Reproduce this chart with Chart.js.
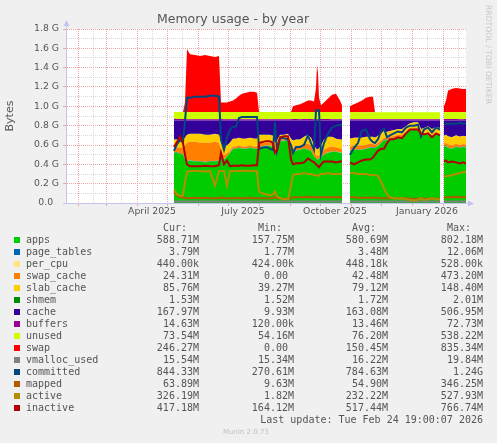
<!DOCTYPE html>
<html>
<head>
<meta charset="utf-8">
<title>Memory usage - by year</title>
<script src="https://cdn.jsdelivr.net/npm/chart.js@4/dist/chart.umd.min.js"></script>
<style>
html, body { margin: 0; padding: 0; background: #f0f0f0; }
#wrap { position: relative; width: 497px; height: 443px; overflow: hidden; }
#chart { position: absolute; left: 0; top: 0; }
.lg { position: absolute; font-family: "DejaVu Sans Mono", monospace; font-size: 10px; line-height: 12px; color: #555; white-space: pre; }
.sw { position: absolute; width: 6px; height: 6px; }
#rrd { position: absolute; left: 484px; top: 5px; writing-mode: vertical-rl; font-family: "DejaVu Sans", sans-serif; font-size: 7.7px; line-height: 8px; color: #c8c8c8; white-space: nowrap; }
#munin { position: absolute; left: 223px; top: 428px; font-family: "DejaVu Sans", sans-serif; font-size: 7px; line-height: 8px; color: #c0c0c0; white-space: nowrap; }
</style>
</head>
<body>
<div id="wrap">
  <canvas id="chart" width="497" height="443"></canvas>
  <div id="rrd">RRDTOOL / TOBI OETIKER</div>
  <div id="munin">Munin 2.0.73</div>
</div>
<script>
// x = days since 20 Jan 2025 (graph covers 400 days), y = gigabytes
const days = [108,111,114,117,119,121,124,129,134,139, 144,149,153,155,158,161,164,167,170,173,
  176,180,184,188,191,193,196,200,204,207, 209,211,214,218,222,225,227,230,234,238,
  242,245,248,250,251,252,253,255,258,262, 266,270,274,276,280,284,288,292,296,300,
  304,307,309,312,315,318,321,324,328,332, 336,340,344,348,352,355,358,362,366,370,
  374,376,378,380,382,386,390,394,397,400];

const apps = [.52,.52,.51,.50,.46,.43,.44,.43,.43,.42, .43,.43,.44,.47,.45,.48,.52,.56,.56,.57,
  .56,.56,.57,.56,.56,.58,.58,.59,.59,.58, .50,.52,.64,.64,.65,.56,.52,.54,.55,.56,
  .55,.54,.48,.46,.45,.45,.46,.47,.50,.52, .53,.53,.52,.52,null,.54,.55,.55,.55,.56,
  .57,.57,.57,.59,.62,.65,.65,.66,.67,.68, .68,.72,.75,.76,.76,.70,.70,.72,.69,.71,
  .70,null,.58,.59,.57,.56,.58,.57,.58,.575];
const pageTables = [.0040,.0038,.0037,.0036,.0036,.0035,.0035,.0034,.0035,.0035, .0034,.0035,.0035,.0036,.0035,.0035,.0034,.0034,.0035,.0034,
  .0034,.0034,.0035,.0034,.0034,.0033,.0033,.0034,.0034,.0033, .0034,.0033,.0032,.0032,.0032,.0034,.0035,.0035,.0034,.0035,
  .0036,.0035,.0034,.0034,.0034,.0034,.0034,.0035,.0035,.0035, .0034,.0034,.0034,.0034,null,.0033,.0034,.0034,.0034,.0034,
  .0035,.0035,.0034,.0034,.0033,.0033,.0032,.0032,.0032,.0032, .0032,.0031,.0031,.0031,.0031,.0032,.0032,.0031,.0032,.0031,
  .0031,null,.0036,.0037,.0037,.0037,.0037,.0037,.0037,.0037];
const perCpu = [.00045,.00045,.00044,.00044,.00044,.00044,.00043,.00043,.00043,.00043, .00043,.00043,.00043,.00043,.00043,.00043,.00043,.00044,.00044,.00044,
  .00044,.00044,.00044,.00044,.00044,.00043,.00043,.00043,.00043,.00043, .00043,.00043,.00043,.00043,.00043,.00044,.00045,.00045,.00045,.00045,
  .00045,.00045,.00045,.00045,.00045,.00045,.00045,.00045,.00045,.00045, .00045,.00045,.00045,.00045,null,.00046,.00046,.00045,.00045,.00045,
  .00045,.00045,.00045,.00044,.00044,.00044,.00044,.00044,.00044,.00044, .00044,.00044,.00044,.00044,.00044,.00044,.00044,.00044,.00044,.00044,
  .00044,null,.00043,.00043,.00043,.00043,.00043,.00043,.00043,.00043];
const swapCache = [.05,.05,.06,.07,.13,.19,.19,.20,.19,.20, .19,.20,.18,.06,.04,.03,.02,.02,.02,.02,
  .02,.02,.02,.02,.02,.04,.04,.03,.03,.03, .04,.04,.01,.01,.01,.03,.04,.04,.04,.05,
  .06,.05,.04,.03,.03,.03,.03,.04,.05,.05, .05,.04,.04,.04,null,.04,.04,.04,.04,.04,
  .04,.04,.03,.03,.02,.02,.02,.02,.02,.02, .02,.01,.01,.01,.01,.01,.01,.01,.01,.01,
  .01,null,.03,.03,.03,.03,.03,.025,.025,.024];
const slabCache = [.08,.08,.08,.08,.08,.08,.08,.08,.09,.08, .08,.08,.08,.08,.09,.08,.08,.08,.08,.08,
  .08,.08,.08,.08,.08,.08,.08,.08,.08,.08, .08,.08,.05,.05,.05,.07,.08,.07,.06,.07,
  .09,.08,.07,.07,.07,.07,.07,.08,.10,.11, .10,.09,.09,.09,null,.08,.08,.08,.08,.08,
  .07,.07,.07,.07,.07,.07,.06,.06,.06,.06, .06,.06,.06,.06,.06,.05,.06,.06,.06,.06,
  .06,null,.08,.08,.085,.085,.085,.085,.085,.084];
const shmem = [.0019,.0018,.0018,.0018,.0017,.0017,.0017,.0017,.0017,.0017, .0017,.0017,.0017,.0017,.0017,.0017,.0017,.0016,.0016,.0016,
  .0016,.0016,.0016,.0016,.0016,.0017,.0017,.0017,.0017,.0017, .0017,.0017,.0016,.0016,.0016,.0017,.0018,.0018,.0018,.0018,
  .0018,.0018,.0018,.0018,.0018,.0018,.0018,.0018,.0018,.0018, .0018,.0018,.0018,.0018,null,.0017,.0017,.0017,.0017,.0017,
  .0017,.0017,.0017,.0017,.0017,.0016,.0016,.0016,.0016,.0016, .0016,.0016,.0016,.0016,.0016,.0016,.0016,.0016,.0016,.0016,
  .0016,null,.0015,.0015,.0015,.0015,.0015,.0015,.0015,.0015];
const cache = [.198,.198,.198,.198,.178,.148,.138,.138,.138,.148, .148,.138,.148,.238,.268,.258,.228,.188,.188,.178,
  .188,.188,.178,.188,.188,.148,.148,.148,.148,.158, .228,.208,.148,.148,.138,.188,.208,.198,.198,.168,
  .148,.178,.258,.288,.298,.298,.288,.258,.198,.168, .168,.188,.198,.198,null,.188,.178,.178,.178,.168,
  .168,.168,.178,.158,.138,.108,.118,.108,.098,.088, .088,.058,.028,.018,.018,.088,.078,.058,.088,.068,
  .078,null,.158,.148,.163,.173,.153,.168,.158,.165];
const buffers = [.016,.015,.015,.015,.014,.014,.014,.014,.014,.014, .014,.014,.014,.014,.014,.014,.014,.014,.014,.014,
  .014,.014,.014,.014,.014,.013,.013,.013,.013,.013, .013,.013,.013,.013,.013,.013,.014,.014,.014,.014,
  .014,.014,.014,.014,.014,.014,.014,.014,.014,.014, .014,.014,.014,.014,null,.013,.013,.013,.013,.013,
  .013,.013,.013,.013,.013,.013,.013,.013,.013,.013, .013,.013,.013,.013,.013,.013,.013,.013,.013,.013,
  .013,null,.015,.015,.015,.015,.015,.014,.014,.0143];
const unused = [.074,.073,.073,.073,.073,.073,.072,.073,.073,.073, .073,.073,.073,.073,.073,.073,.073,.073,.073,.073,
  .073,.073,.073,.073,.073,.074,.074,.074,.074,.074, .074,.074,.074,.074,.074,.074,.073,.073,.073,.073,
  .073,.073,.073,.073,.073,.073,.073,.073,.073,.073, .073,.073,.073,.073,null,.074,.074,.073,.073,.073,
  .073,.073,.073,.073,.073,.073,.073,.073,.073,.073, .073,.073,.073,.073,.073,.073,.073,.073,.073,.073,
  .073,null,.072,.072,.072,.072,.072,.072,.072,.0718];
const swap = [0,0,0,0,.10,.65,.60,.59,.58,.59, .58,.57,.58,.10,.10,.10,.11,.12,.14,.17,
  .19,.20,.21,.21,.20,0,0,0,0,0, 0,0,0,0,0,0,.06,.07,.08,.10,
  .12,.12,.11,.25,.49,.40,.15,.07,.10,.14, .18,.19,.12,.07,null,.06,.08,.10,.12,.15,
  .16,.16,0,0,0,0,0,0,0,0, 0,0,0,0,0,0,0,0,0,0,
  0,null,.06,.12,.22,.24,.25,.245,.24,.24];
const vmallocUsed = [.0162,.0160,.0160,.0159,.0159,.0158,.0158,.0158,.0158,.0158, .0158,.0158,.0158,.0159,.0159,.0159,.0159,.0159,.0159,.0159,
  .0159,.0159,.0159,.0159,.0159,.0157,.0157,.0157,.0157,.0157, .0158,.0157,.0157,.0157,.0157,.0158,.0159,.0159,.0159,.0159,
  .0159,.0159,.0159,.0160,.0160,.0160,.0160,.0159,.0159,.0159, .0159,.0159,.0159,.0159,null,.0157,.0157,.0158,.0158,.0158,
  .0158,.0158,.0158,.0158,.0158,.0158,.0158,.0158,.0158,.0158, .0158,.0158,.0158,.0158,.0158,.0158,.0158,.0158,.0158,.0158,
  .0158,null,.0151,.0151,.0152,.0152,.0152,.0152,.0152,.0152];
const committed = [.54,.61,.65,.63,.85,1.09,1.09,1.10,1.10,1.10, 1.11,1.11,1.10,.66,.55,.68,.76,.79,.79,.88,
  .89,.89,.89,.89,.89,.56,.57,.58,.56,.55, .84,.54,.67,.67,.66,.60,.52,.58,.58,.60,
  .70,.62,.55,.96,.96,.96,.96,.50,.62,.72, .78,.80,.81,.81,null,.50,.57,.62,.75,.76,
  .66,.63,.62,.66,.74,.77,.68,.70,.72,.74, .73,.78,.80,.80,.81,.69,.76,.78,.73,.78,
  .76,null,.81,.82,.82,.82,.82,.83,.82,.824];
const mapped = [.11,.08,.06,.06,.055,.05,.05,.055,.05,.055, .05,.05,.05,.06,.05,.05,.05,.05,.055,.05,
  .05,.05,.055,.05,.05,.05,.05,.05,.05,.05, .06,.05,.05,.045,.045,.05,.06,.06,.06,.06,
  .065,.06,.06,.06,.06,.06,.06,.06,.06,.06, .06,.06,.06,.06,null,.06,.06,.055,.055,.055,
  .055,.055,.055,.055,.05,.05,.05,.05,.05,.05, .05,.05,.045,.045,.045,.05,.045,.045,.05,.045,
  .045,null,.06,.06,.06,.06,.065,.06,.06,.062];
const active = [.135,.09,.075,.075,.22,.32,.33,.33,.33,.325, .33,.18,.33,.33,.33,.18,.33,.33,.33,.33,
  .33,.335,.33,.33,.33,.12,.10,.09,.08,.09, .12,.07,.05,.04,.04,.18,.29,.30,.30,.31,
  .30,.30,.29,.29,.28,.28,.29,.30,.30,.31, .30,.30,.30,.30,null,.31,.31,.30,.30,.30,
  .29,.29,.29,.28,.22,.15,.09,.06,.05,.045, .05,.04,.03,.025,.03,.05,.03,.04,.05,.04,
  .04,null,.27,.28,.28,.29,.30,.31,.32,.319];
const inactive = [.58,.63,.69,.62,.50,.40,.38,.38,.38,.385, .38,.38,.39,.52,.40,.44,.38,.385,.385,.385,
  .39,.385,.385,.39,.39,.62,.63,.64,.64,.62, .52,.55,.68,.69,.69,.45,.40,.41,.41,.42,
  .46,.44,.42,.40,.39,.38,.37,.40,.43,.43, .43,.42,.43,.43,null,.42,.40,.42,.44,.45,
  .45,.47,.50,.54,.56,.56,.62,.66,.66,.68, .67,.72,.76,.76,.76,.72,.71,.72,.68,.72,
  .70,null,.43,.44,.42,.43,.42,.41,.42,.407];

const seriesNames = ['apps','page_tables','per_cpu','swap_cache','slab_cache','shmem','cache','buffers','unused','swap',
  'vmalloc_used','committed','mapped','active','inactive'];
const seriesColors = ['#00cc00','#0066b3','#ffe680','#ff8000','#ffcc00','#008f00','#330099','#990099','#ccff00','#ff0000',
  '#808080','#00487d','#b35a00','#b38f00','#b30000'];
const curValues = ['588.71M','3.79M','440.00k','24.31M','85.76M','1.53M','167.97M','14.63M','73.54M','246.27M','15.54M','844.33M','63.89M','326.19M','417.18M'];
const minValues = ['157.75M','1.77M','424.00k','0.00 ','39.27M','1.52M','9.93M','120.00k','54.16M','0.00 ','15.34M','270.61M','9.63M','1.82M','164.12M'];
const avgValues = ['580.69M','3.48M','448.18k','42.48M','79.12M','1.72M','163.08M','13.46M','76.20M','150.45M','16.22M','784.63M','54.90M','232.22M','517.44M'];
const maxValues = ['802.18M','12.06M','528.00k','473.20M','148.40M','2.01M','506.95M','72.73M','538.22M','835.34M','19.84M','1.24G','346.25M','527.93M','766.74M'];

const xTickDays = [86, 177, 269, 361];
const xTickLabels = ['April 2025', 'July 2025', 'October 2025', 'January 2026'];
const monthStartDays = [12, 40, 71, 101, 132, 162, 193, 224, 254, 285, 315, 346, 377];
const midMonthDays = [27, 55, 86, 116, 147, 177, 208, 239, 269, 300, 330, 361, 392];
const yTickLabels = ['0.0  ', '0.2 G', '0.4 G', '0.6 G', '0.8 G', '1.0 G', '1.2 G', '1.4 G', '1.6 G', '1.8 G'];

const majorGrid = '#eca6a6';
const minorGrid = '#d9d9d9';
const axisColor = '#c4c4ee';
const textColor = '#555555';
const tickFont = { family: 'DejaVu Sans', size: 9.3 };

const stackedSeries = [apps, pageTables, perCpu, swapCache, slabCache, shmem, cache, buffers, unused, swap];
const lineSeries = [vmallocUsed, committed, mapped, active, inactive];
const datasets = [];
stackedSeries.forEach((vals, i) => {
  datasets.push({
    label: seriesNames[i],
    data: days.map((d, j) => ({ x: d, y: vals[j] })),
    backgroundColor: seriesColors[i],
    borderWidth: 0,
    pointRadius: 0,
    fill: i === 0 ? 'origin' : '-1',
    stack: 'mem',
    order: 10
  });
});
lineSeries.forEach((vals, k) => {
  const i = k + stackedSeries.length;
  datasets.push({
    label: seriesNames[i],
    data: days.map((d, j) => ({ x: d, y: vals[j] })),
    borderColor: seriesColors[i],
    borderWidth: 2,
    pointRadius: 0,
    fill: false,
    stack: 'line' + k,
    order: 5 - k
  });
});

const gridDays = monthStartDays.concat(midMonthDays).sort((a, b) => a - b);

const frame = {
  id: 'frame',
  beforeDraw(chart) {
    const { ctx, chartArea: a } = chart;
    ctx.save();
    ctx.fillStyle = '#ffffff';
    ctx.fillRect(a.left, a.top, a.right - a.left, a.bottom - a.top);
    ctx.restore();
  },
  afterDraw(chart) {
    const { ctx, chartArea: a } = chart;
    ctx.save();
    ctx.strokeStyle = axisColor;
    ctx.fillStyle = axisColor;
    ctx.lineWidth = 1;
    ctx.beginPath();
    ctx.moveTo(a.left + 0.5, a.top);
    ctx.lineTo(a.left + 0.5, a.top - 3);
    ctx.moveTo(a.right, a.bottom + 0.5);
    ctx.lineTo(a.right + 3, a.bottom + 0.5);
    ctx.moveTo(a.left - 3, a.bottom + 0.5);
    ctx.lineTo(a.left, a.bottom + 0.5);
    ctx.stroke();
    ctx.beginPath();
    ctx.moveTo(a.left - 2.5, a.top - 3);
    ctx.lineTo(a.left + 3.5, a.top - 3);
    ctx.lineTo(a.left + 0.5, a.top - 9);
    ctx.closePath();
    ctx.fill();
    ctx.beginPath();
    ctx.moveTo(a.right + 2, a.bottom - 2.5);
    ctx.lineTo(a.right + 2, a.bottom + 3.5);
    ctx.lineTo(a.right + 8, a.bottom + 0.5);
    ctx.closePath();
    ctx.fill();
    ctx.restore();
  }
};

new Chart(document.getElementById('chart').getContext('2d'), {
  type: 'line',
  data: { datasets: datasets },
  options: {
    responsive: false,
    animation: false,
    events: [],
    layout: { padding: { left: 0, right: 31, top: 0, bottom: 0 } },
    elements: { line: { tension: 0 }, point: { radius: 0 } },
    plugins: {
      legend: { display: false },
      tooltip: { enabled: false },
      title: {
        display: true,
        text: 'Memory usage - by year',
        color: textColor,
        font: { family: 'DejaVu Sans', size: 12.5, weight: 'normal' },
        padding: { top: 12, bottom: 2 }
      }
    },
    scales: {
      x: {
        type: 'linear',
        min: 0,
        max: 400,
        afterFit: s => { s.height = 240; },
        afterBuildTicks: s => { s.ticks = gridDays.map(v => ({ value: v })); },
        ticks: {
          autoSkip: false,
          maxRotation: 0,
          minRotation: 0,
          padding: 0,
          color: textColor,
          font: tickFont,
          callback: v => {
            const i = xTickDays.indexOf(v);
            return i >= 0 ? xTickLabels[i] : '';
          }
        },
        grid: {
          color: c => monthStartDays.includes(c.tick.value) ? majorGrid : minorGrid,
          tickColor: c => monthStartDays.includes(c.tick.value) ? majorGrid : 'rgba(0,0,0,0)',
          tickLength: 3
        },
        border: { color: axisColor, dash: [1, 1], z: 1 }
      },
      y: {
        stacked: true,
        min: 0,
        max: 1.8,
        afterFit: s => { s.width = 66; },
        afterBuildTicks: s => {
          s.ticks = yTickLabels.flatMap((_, i) => i < yTickLabels.length - 1
            ? [{ value: i * 0.2 }, { value: i * 0.2 + 0.1 }] : [{ value: i * 0.2 }]);
        },
        ticks: {
          autoSkip: false,
          padding: 4,
          color: textColor,
          font: tickFont,
          callback: v => {
            const k = Math.round(v * 10);
            return k % 2 ? '' : yTickLabels[k / 2];
          }
        },
        grid: {
          color: c => Math.round(c.tick.value * 10) % 2 ? minorGrid : majorGrid,
          tickColor: c => Math.round(c.tick.value * 10) % 2 ? 'rgba(0,0,0,0)' : majorGrid,
          tickLength: 3
        },
        border: { color: axisColor, dash: [1, 1], z: 1 },
        title: {
          display: true,
          text: 'Bytes',
          color: textColor,
          font: { family: 'DejaVu Sans', size: 11 },
          padding: { top: 4, bottom: 0 }
        }
      }
    }
  },
  plugins: [frame]
});

// legend table below the graph
const wrap = document.getElementById('wrap');
function addText(txt, style) {
  const d = document.createElement('div');
  d.className = 'lg';
  d.textContent = txt;
  Object.assign(d.style, style);
  wrap.appendChild(d);
}
const colRight = [298, 203, 109, 14];
['Cur:', 'Min:', 'Avg:', 'Max:'].forEach((h, c) => addText(h, { right: (colRight[c] + 12) + 'px', top: '222px' }));
seriesNames.forEach((name, i) => {
  const top = 234 + 12 * i;
  const sw = document.createElement('div');
  sw.className = 'sw';
  sw.style.left = '14px';
  sw.style.top = (top + 3) + 'px';
  sw.style.background = seriesColors[i];
  wrap.appendChild(sw);
  addText(name, { left: '26px', top: top + 'px' });
  [curValues, minValues, avgValues, maxValues].forEach((col, c) => {
    addText(col[i], { right: colRight[c] + 'px', top: top + 'px' });
  });
});
addText('Last update: Tue Feb 24 19:00:07 2026', { right: '14px', top: '414px' });
</script>
</body>
</html>
